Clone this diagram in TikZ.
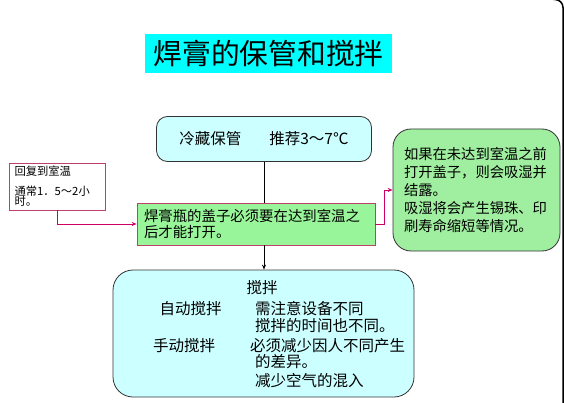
\documentclass[tikz,border=0pt]{standalone}
\usepackage{fontspec}
\setmainfont{Noto Sans CJK SC}
\usetikzlibrary{arrows.meta,positioning,calc}
\definecolor{titlecyan}{HTML}{00FFFF}
\definecolor{palecyan}{HTML}{CCFFFF}
\definecolor{lightgreen}{HTML}{99F599}
\definecolor{tipgreen}{HTML}{A0EEA0}
\definecolor{linkred}{HTML}{CC0066}
\definecolor{notered}{HTML}{C0406A}

\begin{document}
\begin{tikzpicture}[x=1pt, y=-1pt,
    box/.style={draw=black!80, line width=0.8pt, inner sep=0pt},
    roundbox/.style={box, rounded corners=11pt, fill=palecyan},
    link/.style={-{Stealth[length=5pt,width=4pt]}, linkred, line width=0.8pt},
    txt/.style={anchor=base west, inner sep=0pt, font=\fontsize{15.5}{18}\selectfont}
]
    \useasboundingbox (0,0) rectangle (564,403);

    \node[fill=titlecyan, minimum width=247pt, minimum height=39pt, font=\fontsize{28.75}{30}\selectfont] (title) at (268.5,53.5) {焊膏的保管和搅拌};

    \node[roundbox, minimum width=215pt, minimum height=45pt, font=\fontsize{15.5}{18}\selectfont] (store) at (264,139) {冷藏保管\hspace{28pt}推荐3～7℃};

    \node[box, draw=notered, fill=lightgreen, text width=224pt, inner xsep=7pt, minimum height=42pt, align=left, font=\fontsize{14.4}{15.5}\selectfont] (open) at (256,224) {焊膏瓶的盖子必须要在达到室温之\\后才能打开。};

    \node[box, draw=notered, fill=white, text width=85pt, inner xsep=5.5pt, minimum height=47pt, align=left, font=\fontsize{11.3}{10.5}\selectfont] (note) at (57,186.5) {回复到室温\\[9pt]通常1．5～2小\\时。};

    \node[box, rounded corners=18pt, fill=tipgreen, text width=145pt, inner xsep=11pt, minimum height=122pt, align=left, font=\fontsize{14.3}{18.2}\selectfont] (tip) at (476.5,190) {如果在未达到室温之前\\打开盖子，则会吸湿并\\结露。\\吸湿将会产生锡珠、印\\刷寿命缩短等情况。};

    \node[roundbox, rounded corners=20pt, minimum width=301pt, minimum height=127pt] (stir) at (263.5,333.5) {};
    \node[txt, anchor=base] (stirhead) at (262,293.5) {搅拌};
    \node[txt] (auto) at (159.5,314) {自动搅拌};
    \node[txt] (autonote) at (255,314) {需注意设备不同};
    \node[txt] (autonote2) at (255,331) {搅拌的时间也不同。};
    \node[txt] (hand) at (153,351) {手动搅拌};
    \node[txt] (handnote) at (250,351) {必须减少因人不同产生};
    \node[txt] (handnote2) at (255,367.5) {的差异。};
    \node[txt] (handnote3) at (255,386) {减少空气的混入};

    \draw[line width=0.8pt] (store.south) -- (store.south |- open.north);
    \draw[-{Stealth[length=5pt,width=4pt]}, line width=0.8pt] (open.south -| store.south) -- (stir.north -| store.south);

    % side notes
    \draw[link] (note.south) |- (open.west);
    \draw[link] (open.east) -- ++(9,0) |- (tip.west);

    \draw[line width=1.5pt, rounded corners=8pt] (553,-0.5) -- (563,-0.5) -- (563,404);
\end{tikzpicture}
\end{document}
